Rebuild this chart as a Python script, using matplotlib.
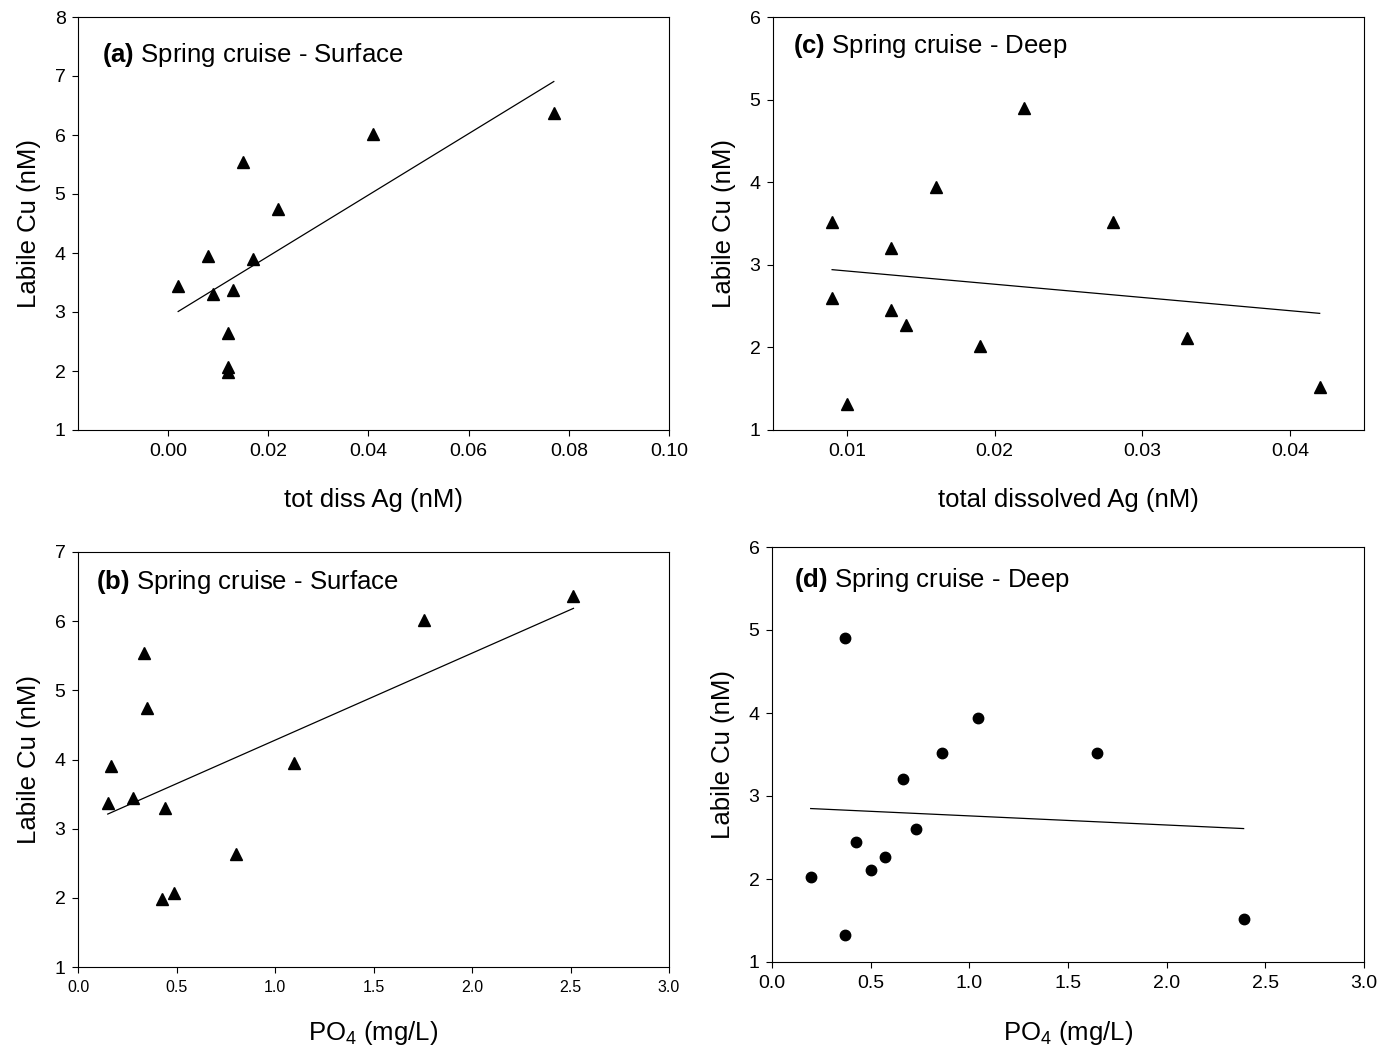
import numpy as np
import matplotlib
matplotlib.use("Agg")
import matplotlib.pyplot as plt

plt.rcParams['font.family'] = ['Liberation Sans', 'DejaVu Sans']
plt.rcParams['mathtext.fontset'] = 'custom'
plt.rcParams['mathtext.rm'] = 'Liberation Sans'
plt.rcParams['mathtext.bf'] = 'Liberation Sans:bold'
plt.rcParams['mathtext.it'] = 'Liberation Sans:italic'

# Spring cruise, surface samples
surf_ag = [0.002, 0.008, 0.009, 0.012, 0.012, 0.012, 0.013, 0.015, 0.017, 0.022, 0.041, 0.077]
surf_cu = [3.44, 3.95, 3.30, 2.64, 2.07, 1.98, 3.37, 5.54, 3.90, 4.75, 6.02, 6.37]
surf_po4 = [0.277, 1.096, 0.441, 0.801, 0.486, 0.427, 0.151, 0.337, 0.165, 0.351, 1.758, 2.515]

# Spring cruise, deep samples
deep_ag = [0.009, 0.009, 0.010, 0.013, 0.013, 0.014, 0.016, 0.019, 0.022, 0.028, 0.033, 0.042]
deep_cu = [3.52, 2.60, 1.32, 3.20, 2.45, 2.27, 3.94, 2.02, 4.90, 3.52, 2.11, 1.52]
deep_po4 = [0.864, 0.728, 0.368, 0.662, 0.428, 0.571, 1.043, 0.196, 0.370, 1.645, 0.503, 2.390]

ticks_a_x = [0.00, 0.02, 0.04, 0.06, 0.08, 0.10]
ticks_c_x = [0.01, 0.02, 0.03, 0.04]
ticks_po4 = [0.0, 0.5, 1.0, 1.5, 2.0, 2.5, 3.0]

W, H = 1382, 1046
fig = plt.figure(figsize=(W / 100, H / 100), dpi=100)


def add_px_axes(left, top, right, bottom):
    return fig.add_axes([left / W, 1 - bottom / H, (right - left) / W, (bottom - top) / H])


def style(ax):
    for s in ax.spines.values():
        s.set_linewidth(0.8)
    ax.tick_params(direction='out', length=4, width=0.8, top=False, right=False,
                   labelsize=14, pad=5)


def panel(ax, x, y, marker, ms, title, title_pos, xlabel, xlabel_y, xlim, xticks,
          xfmt, ylim, xtick_size=14):
    x = np.asarray(x)
    y = np.asarray(y)
    ax.plot(x, y, linestyle='none', marker=marker, ms=ms, color='black')
    slope, icpt = np.polyfit(x, y, 1)
    xs = np.array([x.min(), x.max()])
    ax.plot(xs, slope * xs + icpt, color='black', lw=0.9)
    ax.set_xlim(*xlim)
    ax.set_ylim(*ylim)
    ax.set_xticks(xticks)
    ax.set_xticklabels([xfmt.format(v) for v in xticks])
    ax.set_yticks(range(ylim[0], ylim[1] + 1))
    style(ax)
    ax.tick_params(axis='x', labelsize=xtick_size)
    ax.set_xlabel(xlabel, fontsize=18.5)
    ax.xaxis.set_label_coords(0.5, xlabel_y)
    ax.set_ylabel('Labile Cu (nM)', fontsize=18.5, labelpad=10)
    ax.text(title_pos[0], title_pos[1], title, transform=ax.transAxes,
            fontsize=18.5, va='baseline')


ax_a = add_px_axes(78, 17, 669, 430)
panel(ax_a, surf_ag, surf_cu, '^', 8, r'$\mathbf{(a)}$ Spring cruise - Surface',
      (0.041, 0.891), 'tot diss Ag (nM)', -0.140,
      (-0.018, 0.10), ticks_a_x, '{:.2f}', (1, 8))

ax_c = add_px_axes(773, 17, 1364, 430)
panel(ax_c, deep_ag, deep_cu, '^', 8, r'$\mathbf{(c)}$ Spring cruise - Deep',
      (0.033, 0.913), 'total dissolved Ag (nM)', -0.140,
      (0.005, 0.045), ticks_c_x, '{:.2f}', (1, 6))

ax_b = add_px_axes(78, 552, 669, 967)
panel(ax_b, surf_po4, surf_cu, '^', 8, r'$\mathbf{(b)}$ Spring cruise - Surface',
      (0.030, 0.911), r'PO$_4$ (mg/L)', -0.125,
      (0.0, 3.0), ticks_po4, '{:.1f}', (1, 7), xtick_size=11.5)

ax_d = add_px_axes(772, 547, 1364, 962)
panel(ax_d, deep_po4, deep_cu, 'o', 7.5, r'$\mathbf{(d)}$ Spring cruise - Deep',
      (0.037, 0.904), r'PO$_4$ (mg/L)', -0.137,
      (0.0, 3.0), ticks_po4, '{:.1f}', (1, 6))

fig.savefig('out.png', dpi=100)
